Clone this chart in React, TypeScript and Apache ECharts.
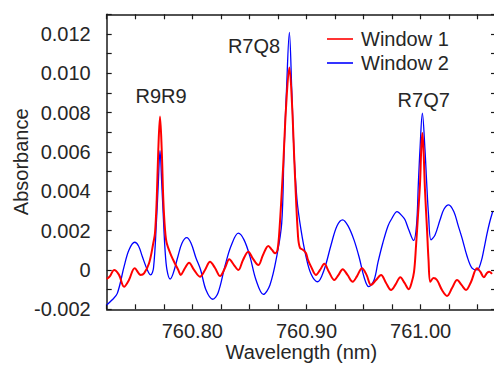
import React, { useEffect, useRef } from "react";
import * as echarts from "echarts";

const wavelength2 = [
  760.725, 760.7296, 760.7343, 760.7402, 760.7445, 760.7495, 760.7529, 760.7562, 760.7606, 760.7635,
  760.766, 760.7688, 760.7702, 760.7717, 760.7732, 760.7746, 760.7761, 760.7778, 760.7805, 760.7831,
  760.7875, 760.791, 760.7951, 760.7988, 760.8032, 760.8073, 760.812, 760.8179, 760.8225, 760.8286,
  760.8339, 760.8403, 760.8453, 760.8505, 760.8558, 760.8622, 760.868, 760.8739, 760.8783, 760.8803,
  760.8825, 760.885, 760.8871, 760.8891, 760.8917, 760.8952, 760.8996, 760.904, 760.9098, 760.9154,
  760.9215, 760.9267, 760.9317, 760.9364, 760.9416, 760.9463, 760.9504, 760.9545, 760.9592, 760.9627,
  760.9668, 760.9714, 760.9749, 760.9793, 760.9837, 760.9863, 760.9896, 760.9938, 760.9964, 760.998,
  760.9994, 761.0015, 761.0038, 761.0053, 761.0069, 761.0091, 761.0126, 761.017, 761.0205, 761.0246,
  761.0292, 761.0327, 761.0362, 761.0406, 761.045, 761.0494, 761.0529, 761.0553, 761.0581, 761.0605,
  761.063,
];
const absorbance2 = [
  -0.00178, -0.00153, -0.00119, 0.00017, 0.00102, 0.00141, 0.00122, 0.00068, 0.0, -0.00025,
  0.0001, 0.00271, 0.00441, 0.00607, 0.00441, 0.00271, 0.00102, 0.0, -0.00046, -0.0002,
  0.00071, 0.00137, 0.00164, 0.00137, 0.00061, 0.0, -0.00102, -0.00149, -0.00117, 0.0002,
  0.00122, 0.00187, 0.00153, 0.00068, -0.00051, -0.00124, -0.00076, 0.00068, 0.00238, 0.00594,
  0.00916, 0.01208, 0.00916, 0.00594, 0.00356, 0.00204, 0.00068, -0.0002, -0.0006, 0.0,
  0.00127, 0.00224, 0.00255, 0.00224, 0.00153, 0.00061, -0.00036, -0.00085, -0.00051, 0.00041,
  0.00136, 0.00224, 0.00263, 0.00297, 0.00275, 0.00255, 0.00204, 0.0015, 0.00229, 0.00441,
  0.00611, 0.00798, 0.00611, 0.00441, 0.0028, 0.00153, 0.00178, 0.00255, 0.0031, 0.00331,
  0.00295, 0.00229, 0.00163, 0.00071, 0.00009, 0.0, 0.00041, 0.00102, 0.00183, 0.00244,
  0.00295,
];

const wavelength1 = [
  760.725, 760.7279, 760.7314, 760.7358, 760.7402, 760.7445, 760.7495, 760.7548, 760.7577, 760.7621,
  760.7658, 760.7673, 760.7688, 760.7702, 760.7717, 760.7732, 760.7746, 760.7761, 760.7776, 760.7819,
  760.784, 760.7877, 760.7898, 760.7936, 760.7971, 760.8015, 760.8067, 760.8111, 760.8155, 760.8199,
  760.8243, 760.8286, 760.8324, 760.8365, 760.8403, 760.8444, 760.849, 760.8532, 760.8578, 760.8619,
  760.8666, 760.8698, 760.8724, 760.8746, 760.8765, 760.8794, 760.8823, 760.885, 760.8873, 760.8897,
  760.8926, 760.8943, 760.897, 760.8996, 760.9013, 760.904, 760.9083, 760.9119, 760.9156, 760.9197,
  760.9244, 760.9281, 760.9317, 760.9359, 760.9405, 760.9443, 760.9486, 760.9526, 760.9565, 760.9609,
  760.9653, 760.9697, 760.9741, 760.9778, 760.9822, 760.9859, 760.9896, 760.992, 760.9942, 760.996,
  760.9977, 760.9994, 761.0005, 761.0015, 761.0025, 761.0038, 761.0056, 761.0069, 761.0085, 761.0113,
  761.0143, 761.0187, 761.0231, 761.0275, 761.0319, 761.0358, 761.0397, 761.0441, 761.0494, 761.0524,
  761.0553, 761.0581, 761.0602, 761.0625,
];
const absorbance1 = [
  -0.00046, -0.00031, 0.0, -0.00025, -0.00085, -0.00051, 0.00009, -0.00025, -0.00017, 0.00034,
  0.00136, 0.00187, 0.00356, 0.00611, 0.0078, 0.00611, 0.00356, 0.00204, 0.00136, 0.00068,
  0.00042, 0.0, -0.00025, 0.0001, 0.00037, 0.0, -0.00034, 0.0, 0.00042, 0.0001,
  -0.00031, 0.0001, 0.00054, 0.00025, 0.0, 0.00051, 0.00093, 0.00056, 0.00025, 0.00076,
  0.00122, 0.00102, 0.00085, 0.00102, 0.0022, 0.00509, 0.00848, 0.0103, 0.00848, 0.00509,
  0.0017, 0.00112, 0.00102, 0.00085, 0.00051, 0.00017, -0.00025, 0.0, 0.00031, -0.0001,
  -0.00051, -0.00025, 0.00004, -0.00025, -0.0006, -0.00031, 0.00009, -0.00025, -0.00076, -0.00051,
  -0.00025, -0.00066, -0.00102, -0.00076, -0.00037, -0.00066, -0.00098, -0.00066, -0.0001, 0.00127,
  0.0028, 0.00433, 0.00611, 0.00696, 0.00611, 0.00407, 0.00204, 0.00051, -0.0006, -0.00041,
  -0.00051, -0.00102, -0.00132, -0.00092, -0.00051, -0.00076, -0.00102, -0.00061, 0.00009, -0.0001,
  -0.00037, -0.00015, -0.00009, -0.0002,
];

const seriesNames = ["Window 1", "Window 2"];
const peakLabels = ["R9R9", "R7Q8", "R7Q7"];

const FONT = "'Liberation Sans', Arial, sans-serif";
const TEXT = "#262626";

export default function App() {
  const ref = useRef<HTMLDivElement>(null);
  useEffect(() => {
    if (!ref.current) return;
    const chart = echarts.init(ref.current, null, { renderer: "svg" });
    const xFmt = (v: number) => {
      const r = Math.round(v * 1000) / 1000;
      return Math.abs(r * 10 - Math.round(r * 10)) < 1e-6 ? r.toFixed(2) : "";
    };
    const yFmt = (v: number) => {
      const m = Math.round(v * 1e6);
      if (m % 2000 !== 0) return "";
      if (m === 0) return "0";
      return (m / 1e6).toFixed(3);
    };
    const axisLine = { show: true, onZero: false, lineStyle: { color: "#1a1a1a", width: 1.5 } };
    const axisTick = { show: true, inside: true, length: 5, lineStyle: { color: "#1a1a1a", width: 1.2 } };
    const xCommon = {
      type: "value" as const,
      min: 760.725,
      max: 761.066,
      interval: 0.025,
      splitLine: { show: false },
      axisLine,
      axisTick,
    };
    const yCommon = {
      type: "value" as const,
      min: -0.002,
      max: 0.013,
      interval: 0.001,
      splitLine: { show: false },
      axisLine,
      axisTick,
    };
    const lineStyleOf = (c: string, w: number) => ({ color: c, width: w });
    chart.setOption({
      animation: false,
      grid: {
        left: 106.7,
        right: -2,
        top: 14.3,
        bottom: 55.7,
        containLabel: false,
        outerBoundsMode: "none",
      },
      textStyle: { fontFamily: FONT },
      xAxis: [
        {
          ...xCommon,
          position: "bottom",
          name: "Wavelength (nm)",
          nameLocation: "middle",
          nameGap: 32.5,
          nameMoveOverlap: false,
          nameTextStyle: { fontSize: 20, color: TEXT, fontFamily: FONT },
          axisLabel: { formatter: xFmt, fontSize: 20, color: TEXT, fontFamily: FONT, margin: 12, showMaxLabel: false },
        },
        { ...xCommon, position: "top", axisLabel: { show: false } },
      ],
      yAxis: [
        {
          ...yCommon,
          position: "left",
          name: "Absorbance",
          nameLocation: "middle",
          nameRotate: 90,
          nameGap: 76,
          nameMoveOverlap: false,
          nameTextStyle: { fontSize: 20, color: TEXT, fontFamily: FONT },
          axisLabel: { formatter: yFmt, fontSize: 20, color: TEXT, fontFamily: FONT, margin: 16 },
        },
        { ...yCommon, position: "right", axisLabel: { show: false } },
      ],
      legend: {
        data: [
          { name: seriesNames[0], icon: "rect", itemStyle: { color: "#ff0000" } },
          { name: seriesNames[1], icon: "rect", itemStyle: { color: "#0000ff" } },
        ],
        orient: "vertical",
        left: 327,
        top: 29,
        itemWidth: 26,
        itemHeight: 1.6,
        itemGap: 4,
        padding: 0,
        textStyle: { fontSize: 20, color: TEXT, fontFamily: FONT, padding: [0, 0, 0, 3], lineHeight: 20 },
      },
      graphic: [
        { type: "text", x: 161, y: 96, style: { text: peakLabels[0], font: `20px ${FONT}`, fill: TEXT, align: "center", verticalAlign: "middle" } },
        { type: "text", x: 254, y: 46, style: { text: peakLabels[1], font: `20px ${FONT}`, fill: TEXT, align: "center", verticalAlign: "middle" } },
        { type: "text", x: 423.7, y: 99.5, style: { text: peakLabels[2], font: `20px ${FONT}`, fill: TEXT, align: "center", verticalAlign: "middle" } },
      ],
      series: [
        {
          name: seriesNames[1],
          type: "line",
          symbol: "none",
          showSymbol: false,
          smooth: 0.35,
          data: wavelength2.map((w, i) => [w, absorbance2[i]]),
          lineStyle: lineStyleOf("#0000ff", 1.3),
          itemStyle: { color: "#0000ff" },
          z: 2,
        },
        {
          name: seriesNames[0],
          type: "line",
          symbol: "none",
          showSymbol: false,
          smooth: 0.35,
          data: wavelength1.map((w, i) => [w, absorbance1[i]]),
          lineStyle: lineStyleOf("#ff0000", 2),
          itemStyle: { color: "#ff0000" },
          z: 3,
        },
      ],
    });
    return () => chart.dispose();
  }, []);
  return (
    <div
      ref={ref}
      style={{ position: "absolute", left: 0, top: 0, width: 494, height: 365, background: "#fff" }}
    />
  );
}
